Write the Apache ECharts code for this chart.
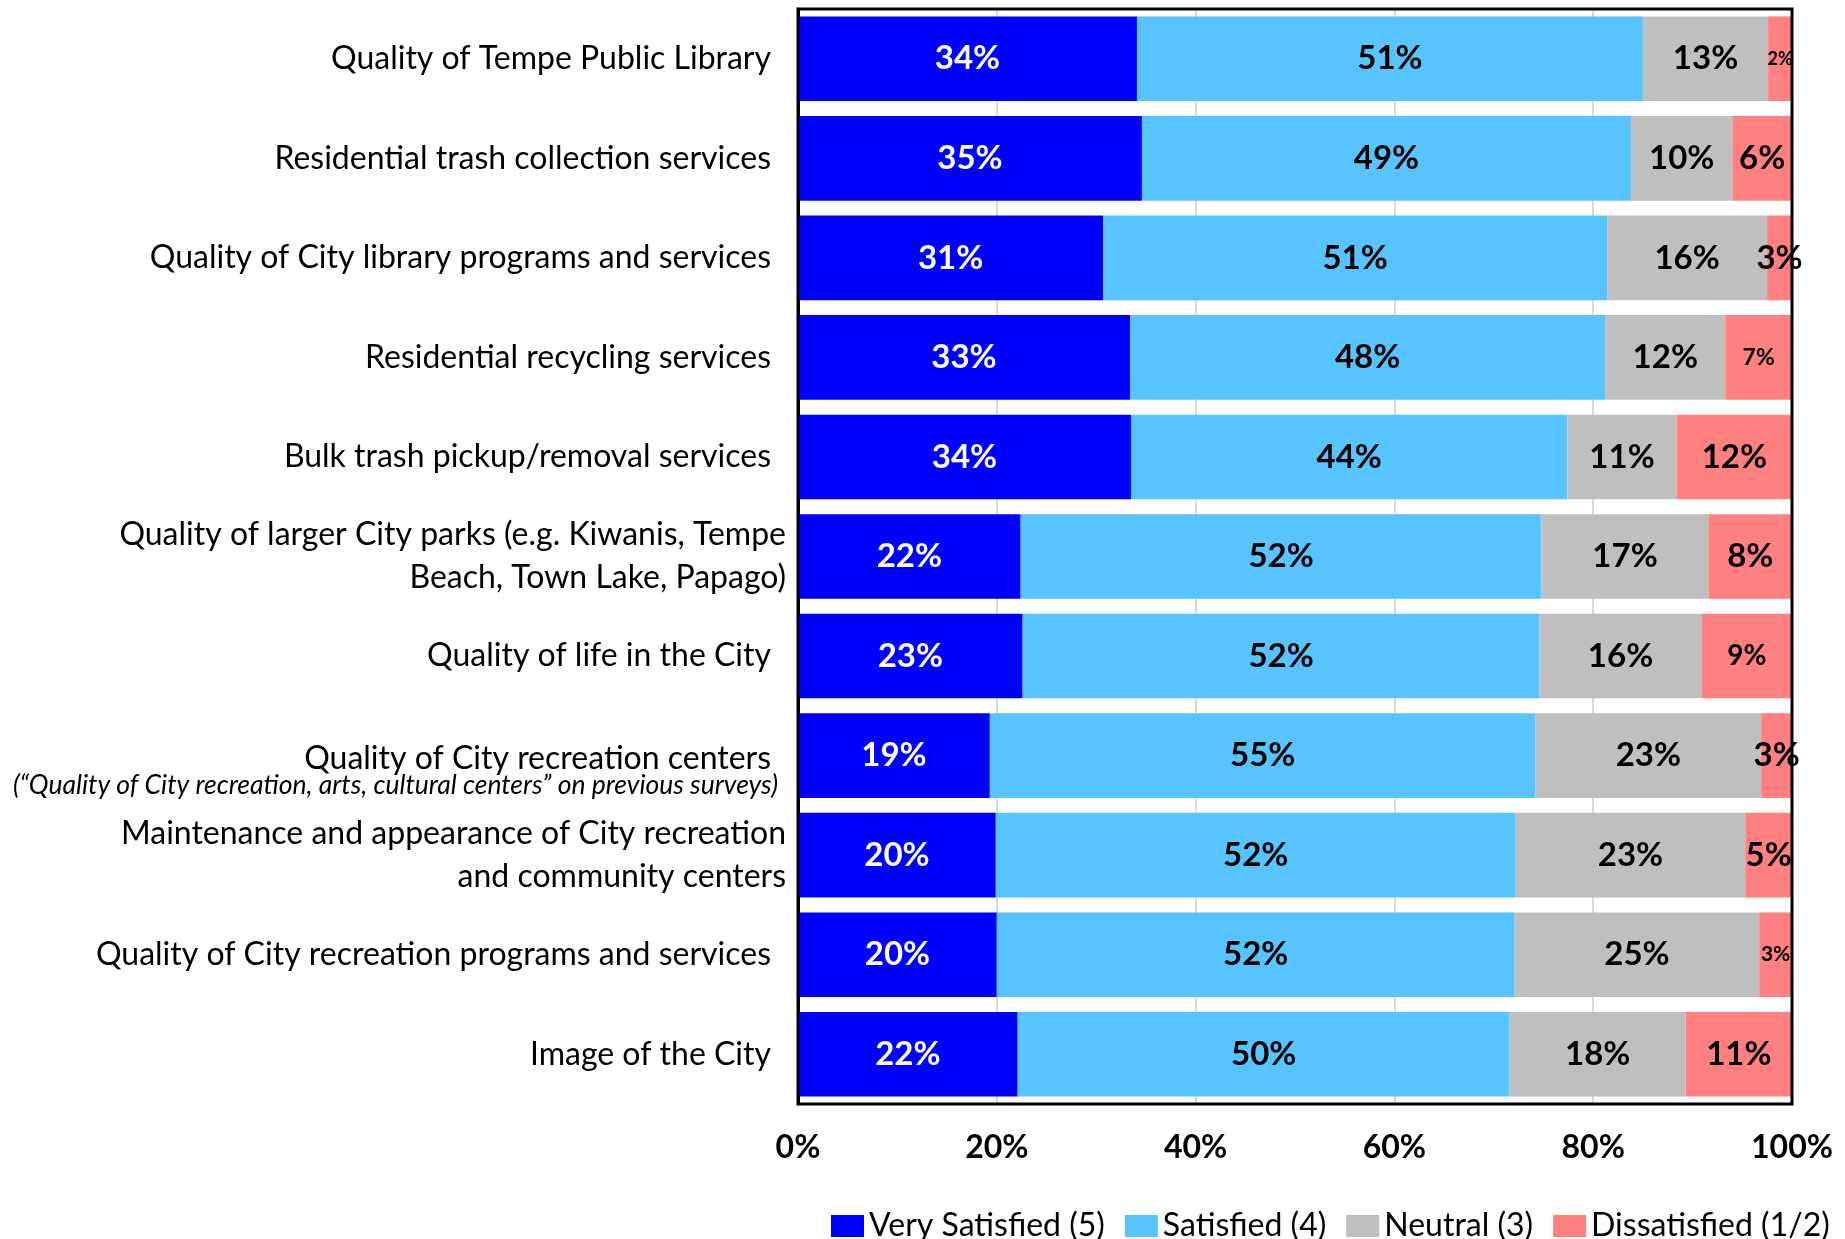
<!DOCTYPE html>
<html>
<head>
<meta charset="utf-8">
<script src="https://cdn.jsdelivr.net/npm/echarts@6/dist/echarts.min.js"></script>
<style>
  html, body { margin: 0; padding: 0; background: #fff; }
  #chart { width: 1845px; height: 1239px; }
</style>
</head>
<body>
<div id="chart"></div>
<script>
// categories, top to bottom
const categories = [
  'Quality of Tempe Public Library',
  'Residential trash collection services',
  'Quality of City library programs and services',
  'Residential recycling services',
  'Bulk trash pickup/removal services',
  'Quality of larger City parks (e.g. Kiwanis, Tempe\nBeach, Town Lake, Papago)',
  'Quality of life in the City',
  'Quality of City recreation centers',
  'Maintenance and appearance of City recreation\nand community centers',
  'Quality of City recreation programs and services',
  'Image of the City'
]
// sub note under one of the categories (italic)
const notes = { 7: '(“Quality of City recreation, arts, cultural centers” on previous surveys)' }

const seriesNames = ['Very Satisfied (5)', 'Satisfied (4)', 'Neutral (3)', 'Dissatisfied (1/2)']

// percentages
const verySatisfied = [34.1, 34.6, 30.7, 33.4, 33.5, 22.4, 22.6, 19.3, 19.9, 20.0, 22.1]
const satisfied     = [50.9, 49.2, 50.7, 47.8, 43.9, 52.4, 52.0, 54.9, 52.3, 52.1, 49.5]
const neutral       = [12.6, 10.2, 16.1, 12.1, 11.0, 16.8, 16.3, 22.7, 23.1, 24.6, 17.7]
const dissatisfied  = [ 2.4,  6.0,  2.5,  6.7, 11.6,  8.4,  9.1,  3.1,  4.7,  3.3, 10.7]

const xTicks = [0, 20, 40, 60, 80, 100]

const colors = ['#0000FF', '#57C4FF', '#BFBFBF', '#FF8080']
const FONT = 'Lato'

// some of the small red labels are shrunk in the original
const disLabelSize = { 0: 18, 3: 23, 6: 28, 9: 21 }

const values = [verySatisfied, satisfied, neutral, dissatisfied]

let chart = echarts.init(document.getElementById('chart'))

const series = values.map((vals, si) => ({
  name: seriesNames[si],
  type: 'bar',
  stack: 'total',
  barCategoryGap: '15%',
  itemStyle: { color: colors[si] },
  label: {
    show: true,
    position: 'inside',
    fontFamily: FONT,
    fontWeight: 'bold',
    fontSize: 33,
    color: si === 0 ? '#fff' : '#000',
    formatter: p => Math.round(p.value) + '%'
  },
  data: vals.map((v, i) => {
    if (si === 3 && disLabelSize[i]) {
      return { value: v, label: { fontSize: disLabelSize[i] } }
    }
    return v
  })
}))

const option = {
  animation: false,
  textStyle: { fontFamily: FONT },
  grid: {
    left: 798,
    right: 53,
    top: 9,
    bottom: 135,
    show: true,
    borderColor: '#000',
    borderWidth: 3,
    z: 10
  },
  legend: {
    left: 831,
    right: 0,
    top: 1210,
    padding: 0,
    icon: 'rect',
    itemWidth: 33,
    itemHeight: 22,
    itemGap: 20,
    textStyle: { fontFamily: FONT, fontSize: 32, color: '#000' },
    data: seriesNames
  },
  xAxis: {
    type: 'value',
    min: 0,
    max: 100,
    interval: 20,
    axisLine: { show: false },
    axisTick: { show: false },
    splitLine: { show: true, lineStyle: { color: '#D9D9D9', width: 2 } },
    axisLabel: {
      margin: 28,
      fontFamily: FONT,
      fontWeight: 'bold',
      fontSize: 32,
      color: '#000',
      formatter: v => (xTicks.indexOf(v) >= 0 ? v + '%' : '')
    }
  },
  yAxis: {
    type: 'category',
    inverse: true,
    data: categories,
    axisLine: { show: true, lineStyle: { color: '#000', width: 3 } },
    axisTick: { show: false },
    axisLabel: {
      margin: 12,
      formatter: (val, idx) => {
        // empty first line keeps the main text centred on the bar, note below it
        if (notes[idx]) return '{e| }\n{t|' + val + '}\n{n|' + notes[idx] + '}'
        if (val.indexOf('\n') >= 0) {
          return val.split('\n').map(t => '{m|' + t + '}').join('\n')
        }
        return '{s|' + val + '}'
      },
      rich: {
        s: { fontFamily: FONT, fontSize: 32, color: '#000', padding: [0, 15, 0, 0], lineHeight: 38 },
        e: { fontSize: 10, lineHeight: 33 },
        t: { fontFamily: FONT, fontSize: 32, color: '#000', padding: [0, 15, 0, 0], lineHeight: 27 },
        m: { fontFamily: FONT, fontSize: 32, color: '#000', lineHeight: 43 },
        n: { fontFamily: FONT, fontSize: 26.5, fontStyle: 'italic', color: '#000', lineHeight: 27, padding: [0, 8, 0, 0] }
      }
    }
  },
  series: series
}

chart.setOption(option)
</script>
</body>
</html>
